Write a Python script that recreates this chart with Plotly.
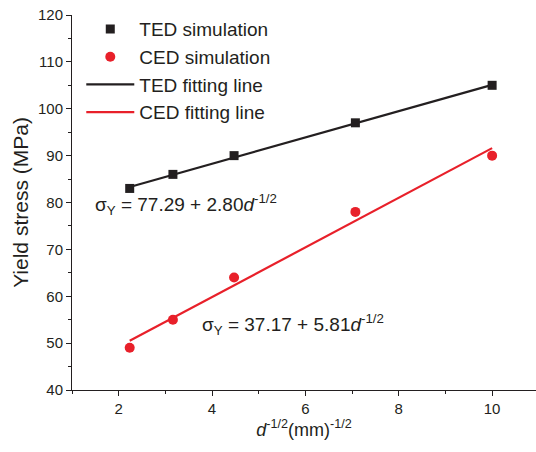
import plotly.graph_objects as go

x_vals = [2.236, 3.162, 4.472, 7.071, 10.0]
ted_sim = [83, 86, 90, 97, 105]
ced_sim = [49, 55, 64, 78, 90]
fit_x = [2.236, 10.0]
ted_fit = [83.3, 105.1]
ced_fit = [50.5, 91.6]

font = "Liberation Sans, Arial, sans-serif"
fig = go.Figure()
fig.add_trace(go.Scatter(x=x_vals, y=ted_sim, mode="markers", name="TED simulation",
                         marker=dict(symbol="square", size=9, color="#231f20")))
fig.add_trace(go.Scatter(x=x_vals, y=ced_sim, mode="markers", name="CED simulation",
                         marker=dict(symbol="circle", size=10, color="#e8202a")))
fig.add_trace(go.Scatter(x=fit_x, y=ted_fit, mode="lines", name="TED fitting line",
                         line=dict(color="#231f20", width=2.2)))
fig.add_trace(go.Scatter(x=fit_x, y=ced_fit, mode="lines", name="CED fitting line",
                         line=dict(color="#e8202a", width=2.2)))

fig.add_annotation(x=1.45, y=79.6, xref="x", yref="y", xanchor="left", showarrow=False,
                   text="σ<sub>Y</sub> = 77.29 + 2.80<i>d</i><sup>-1/2</sup>",
                   font=dict(size=19, color="#231f20", family=font))
fig.add_annotation(x=3.75, y=54.0, xref="x", yref="y", xanchor="left", showarrow=False,
                   text="σ<sub>Y</sub> = 37.17 + 5.81<i>d</i><sup>-1/2</sup>",
                   font=dict(size=19, color="#231f20", family=font))

fig.update_layout(
    width=536, height=452,
    margin=dict(l=72, r=0, t=15, b=62),
    paper_bgcolor="white", plot_bgcolor="white",
    font=dict(family=font, color="#231f20"),
    showlegend=True,
    legend=dict(x=0.02, y=1.013, xanchor="left", yanchor="top",
                bgcolor="rgba(0,0,0,0)", font=dict(size=19, family=font),
                itemwidth=48, tracegroupgap=0),
    xaxis=dict(range=[1, 10.94], tickvals=[2, 4, 6, 8, 10], ticks="outside", ticklen=5,
               tickwidth=1, tickcolor="#231f20", showline=True, linecolor="#231f20",
               linewidth=1, showgrid=False, zeroline=False,
               tickfont=dict(size=15),
               minor=dict(tickvals=[1, 3, 5, 7, 9], ticks="outside", ticklen=3, tickcolor="#231f20"),
               title=dict(text="<i>d</i><sup>-1/2</sup>(mm)<sup>-1/2</sup>", font=dict(size=18), standoff=4)),
    yaxis=dict(range=[40, 120], tickvals=list(range(40, 121, 10)), ticks="outside", ticklen=5,
               tickwidth=1, tickcolor="#231f20", showline=True, linecolor="#231f20",
               linewidth=1, showgrid=False, zeroline=False,
               tickfont=dict(size=15),
               minor=dict(tickvals=list(range(45, 120, 10)), ticks="outside", ticklen=3, tickcolor="#231f20"),
               title=dict(text="Yield stress (MPa)", font=dict(size=21), standoff=3)),
)
fig.write_html("out.html")
